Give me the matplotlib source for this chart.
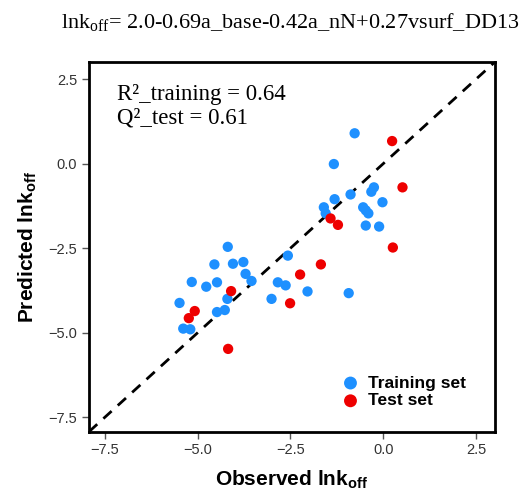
import matplotlib
matplotlib.use("Agg")
import matplotlib.pyplot as plt

# Training set (observed, predicted)
train_obs = [-0.77, -1.33, -0.25, -0.32, -0.88, -1.31, -0.02, -1.60, -1.55, -0.54,
             -0.47, -0.40, -0.47, -0.11, -2.57, -4.19, -4.55, -4.05, -3.77, -3.71,
             -3.55, -5.16, -4.77, -4.48, -4.20, -5.49, -4.48, -4.27, -5.39, -5.20,
             -2.84, -2.63, -2.04, -3.01, -0.93]
train_pred = [0.90, -0.01, -0.70, -0.83, -0.91, -1.05, -1.14, -1.29, -1.47, -1.29,
              -1.38, -1.47, -1.83, -1.86, -2.72, -2.46, -2.98, -2.96, -2.91, -3.26,
              -3.47, -3.50, -3.64, -3.51, -4.00, -4.12, -4.39, -4.33, -4.88, -4.90,
              -3.51, -3.60, -3.78, -4.00, -3.83]

# Test set (observed, predicted)
test_obs = [0.24, 0.52, -1.42, -1.22, 0.26, -1.68, -2.24, -2.51, -4.10, -5.08, -5.24, -4.18]
test_pred = [0.67, -0.70, -1.62, -1.81, -2.48, -2.98, -3.28, -4.13, -3.77, -4.36, -4.57, -5.48]

ticks = [-7.5, -5.0, -2.5, 0.0, 2.5]
lims = (-7.93, 3.0)

title = r"lnk$_{\mathregular{off}}$= 2.0-0.69a_base-0.42a_nN+0.27vsurf_DD13"
stats_text = "R²_training = 0.64\nQ²_test = 0.61"

fig = plt.figure(figsize=(5.19, 4.95), dpi=100)
ax = fig.add_axes([0.1715, 0.1279, 0.7813, 0.7462])

ax.plot(lims, lims, color="black", lw=2, ls=(0, (4, 3)), zorder=1)
ax.scatter(train_obs, train_pred, s=55, color="#1E90FF", edgecolors="none",
           label="Training set", zorder=3)
ax.scatter(test_obs, test_pred, s=55, color="#EE0000", edgecolors="none",
           label="Test set", zorder=3)

ax.set_xlim(*lims)
ax.set_ylim(*lims)
ax.set_xticks(ticks)
ax.set_yticks(ticks)
ax.tick_params(direction="out", length=5, width=1, color="#555555",
               labelsize=10.5, labelcolor="#333333")
for lab in ax.get_xticklabels() + ax.get_yticklabels():
    lab.set_family("Liberation Sans")
for sp in ax.spines.values():
    sp.set_linewidth(2)
    sp.set_color("black")

ax.set_xlabel(r"Observed lnk$_{\mathregular{off}}$", fontsize=15, fontweight="bold",
              family="Liberation Sans", labelpad=8)
ax.set_ylabel(r"Predicted lnk$_{\mathregular{off}}$", fontsize=15, fontweight="bold",
              family="Liberation Sans", labelpad=7)

ax.text(0.068, 0.94, stats_text, transform=ax.transAxes, ha="left", va="top",
        fontsize=16.5, family="Liberation Serif", linespacing=1.15)

fig.text(0.56, 0.955, title, ha="center", va="center", fontsize=16,
         family="Liberation Serif")

leg = ax.legend(loc="lower right", bbox_to_anchor=(0.955, 0.035), frameon=False,
                prop={"family": "Liberation Sans", "weight": "bold", "size": 12.5},
                handletextpad=0.0, borderaxespad=0.2, labelspacing=0.15,
                markerscale=1.25)

fig.savefig("out.png", dpi=100)
